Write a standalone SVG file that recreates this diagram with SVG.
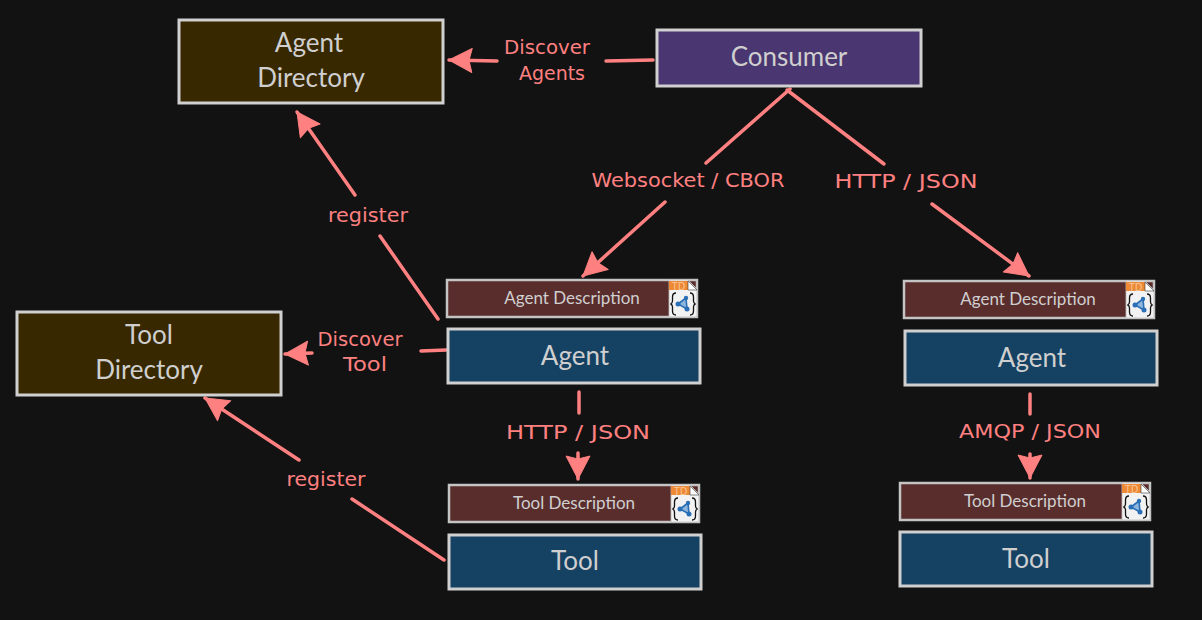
<svg xmlns="http://www.w3.org/2000/svg" width="1202" height="620" viewBox="0 0 1202 620">
<style>
.box{stroke:#d0d0d0;stroke-width:3}
.dir{fill:#382800}.blue{fill:#154162}.pur{fill:#4a3670}.desc{fill:#5a2d2d;stroke:#c4c4c4;stroke-width:2.500}
.t{font-family:"Lato","Noto Sans",sans-serif;fill:#cfcfcf;text-anchor:middle}
.big{font-size:26px}.sm{font-size:17px}
.l{font-family:"DejaVu Sans",sans-serif;fill:#ff8080;font-size:19px;text-anchor:middle}
.c{fill:none;stroke:#ff8080;stroke-width:3.500;stroke-linecap:round}
.icon-paper{fill:#f2f2f2;stroke:#bdbdbd;stroke-width:.8}
.icon-td{font-family:"Liberation Sans",sans-serif;font-size:10px;fill:#f8c89a;text-anchor:middle}
.b{fill:none;stroke:#111;stroke-width:1.300}
</style>
<defs>
<marker id="a" markerUnits="userSpaceOnUse" markerWidth="30" markerHeight="28" refX="24" refY="13" orient="auto"><path d="M1 1L24 13L1 25L4 13Z" fill="#ff8080" stroke="#ff8080" stroke-linejoin="round"/></marker>
<g id="td">
<path class="icon-paper" d="M0 0H19L28 9V37H0Z"/>
<rect x="0" y="1" width="19" height="9" fill="#ee8a35"/>
<text class="icon-td" x="9.500" y="9.500">TD</text>
<path d="M19 1L28 10H19Z" fill="#fff" stroke="#333" stroke-width=".6"/>
<path class="b" d="M7 13Q3.500 13 3.500 17V21Q3.500 23.500 1.500 24Q3.500 24.500 3.500 27V31Q3.500 35 7 35M21 13Q24.500 13 24.500 17V21Q24.500 23.500 26.500 24Q24.500 24.500 24.500 27V31Q24.500 35 21 35"/>
<path d="M17 18L9 24L18 29Z" fill="#8fb6dd" stroke="#2a6fb5" stroke-width="1.600"/>
<circle cx="17" cy="18" r="2.200" fill="#2a6fb5"/><circle cx="9" cy="24" r="2.500" fill="#2a6fb5"/><circle cx="18" cy="29" r="2.500" fill="#2a6fb5"/>
</g>
</defs>
<rect width="1202" height="620" fill="#121212"/>
<g id="connectors">
<path class="c" d="M497 61L449 60" marker-end="url(#a)"/>
<path class="c" d="M653 60L606 61"/>
<path class="c" d="M790 89L706 163"/>
<path class="c" d="M665 202L583 276" marker-end="url(#a)"/>
<path class="c" d="M787 90L884 164"/>
<path class="c" d="M932 204L1029 276" marker-end="url(#a)"/>
<path class="c" d="M355 195L297 112" marker-end="url(#a)"/>
<path class="c" d="M438 319L380 236"/>
<path class="c" d="M312 353L285 354" marker-end="url(#a)"/>
<path class="c" d="M446 350L421 351"/>
<path class="c" d="M579 392V413"/>
<path class="c" d="M578 453V479" marker-end="url(#a)"/>
<path class="c" d="M1030 394V414"/>
<path class="c" d="M1030 454V478" marker-end="url(#a)"/>
<path class="c" d="M299 460L205 398" marker-end="url(#a)"/>
<path class="c" d="M444 560L352 499"/>
</g>
<g id="agent-directory"><rect class="box dir" x="179" y="20" width="264" height="83"/><text class="t big" x="309" y="52">Agent</text><text class="t big" x="311" y="87">Directory</text></g>
<g id="consumer"><rect class="box pur" x="657" y="30" width="264" height="56"/><text class="t big" x="789" y="66">Consumer</text></g>
<g id="tool-directory"><rect class="box dir" x="17" y="312" width="264" height="83"/><text class="t big" x="149" y="344">Tool</text><text class="t big" x="149" y="379">Directory</text></g>
<g id="agent-desc-1"><rect class="desc" x="447" y="280" width="250" height="37"/><text class="t sm" x="572" y="304">Agent Description</text><use href="#td" x="669" y="280"/></g>
<g id="agent-1"><rect class="box blue" x="448" y="329" width="252" height="54"/><text class="t big" x="575" y="365">Agent</text></g>
<g id="tool-desc-1"><rect class="desc" x="449" y="485" width="250" height="37"/><text class="t sm" x="574" y="509">Tool Description</text><use href="#td" x="671" y="485"/></g>
<g id="tool-1"><rect class="box blue" x="449" y="535" width="252" height="54"/><text class="t big" x="575" y="570">Tool</text></g>
<g id="agent-desc-2"><rect class="desc" x="904" y="281" width="250" height="37"/><text class="t sm" x="1028" y="305">Agent Description</text><use href="#td" x="1126" y="281"/></g>
<g id="agent-2"><rect class="box blue" x="905" y="331" width="252" height="54"/><text class="t big" x="1032" y="367">Agent</text></g>
<g id="tool-desc-2"><rect class="desc" x="900" y="483" width="250" height="37"/><text class="t sm" x="1025" y="507">Tool Description</text><use href="#td" x="1122" y="483"/></g>
<g id="tool-2"><rect class="box blue" x="900" y="532" width="252" height="54"/><text class="t big" x="1026" y="568">Tool</text></g>
<g id="connector-labels">
<text class="l" x="547" y="54" textLength="86" lengthAdjust="spacingAndGlyphs">Discover</text>
<text class="l" x="552" y="80" textLength="66" lengthAdjust="spacingAndGlyphs">Agents</text>
<text class="l" x="688" y="187" textLength="193" lengthAdjust="spacingAndGlyphs">Websocket / CBOR</text>
<text class="l" x="906" y="188" textLength="143" lengthAdjust="spacingAndGlyphs">HTTP / JSON</text>
<text class="l" x="368" y="222" textLength="80" lengthAdjust="spacingAndGlyphs">register</text>
<text class="l" x="360" y="346" textLength="85" lengthAdjust="spacingAndGlyphs">Discover</text>
<text class="l" x="365" y="371" textLength="44" lengthAdjust="spacingAndGlyphs">Tool</text>
<text class="l" x="578" y="439" textLength="144" lengthAdjust="spacingAndGlyphs">HTTP / JSON</text>
<text class="l" x="1030" y="438" textLength="142" lengthAdjust="spacingAndGlyphs">AMQP / JSON</text>
<text class="l" x="326" y="486" textLength="79" lengthAdjust="spacingAndGlyphs">register</text>
</g>
</svg>
